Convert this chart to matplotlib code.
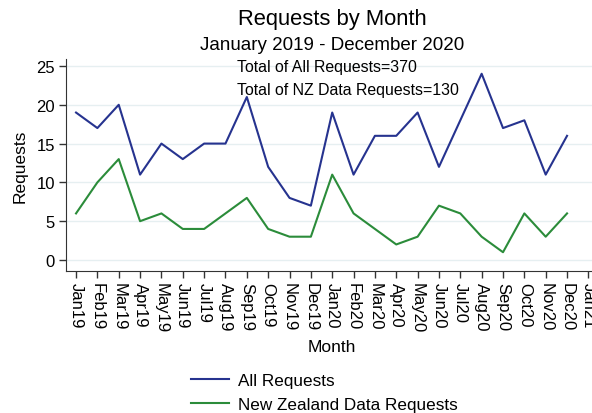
import matplotlib
matplotlib.use("Agg")
import matplotlib.pyplot as plt

months = ["Jan19","Feb19","Mar19","Apr19","May19","Jun19","Jul19","Aug19","Sep19","Oct19","Nov19","Dec19",
          "Jan20","Feb20","Mar20","Apr20","May20","Jun20","Jul20","Aug20","Sep20","Oct20","Nov20","Dec20","Jan21"]
all_requests = [19,17,20,11,15,13,15,15,21,12,8,7,19,11,16,16,19,12,18,24,17,18,11,16]
nz_requests = [6,10,13,5,6,4,4,6,8,4,3,3,11,6,4,2,3,7,6,3,1,6,3,6]
y_ticks = [0,5,10,15,20,25]

plt.rcParams['font.family'] = ['Liberation Sans', 'DejaVu Sans']

W, H = 592, 414
fig = plt.figure(figsize=(W/100, H/100), dpi=100)
left, right, top, bottom = 66, 598, 60, 272
ax = fig.add_axes([left/W, 1-bottom/H, (right-left)/W, (bottom-top)/H])

x = list(range(len(all_requests)))
navy = '#26338f'
green = '#2b8c3a'
l1, = ax.plot(x, all_requests, color=navy, lw=1.5, label='All Requests')
l2, = ax.plot(x, nz_requests, color=green, lw=1.5, label='New Zealand Data Requests')

ax.set_xlim(-0.47, 24.45)
ax.set_ylim(-1.42, 25.9)
ax.set_yticks(y_ticks)
ax.set_yticklabels([str(v) for v in y_ticks], fontsize=12)
ax.set_xticks(range(len(months)))
ax.set_xticklabels(months, rotation=270, fontsize=12, va='top', ha='center')
ax.tick_params(axis='both', direction='out', length=5, width=1, color='#333333', pad=3)
for yv in y_ticks:
    ax.axhline(yv, color='#e6eff1', lw=1, zorder=0)
ax.spines['top'].set_visible(False)
ax.spines['right'].set_visible(False)
ax.spines['left'].set_color('#333333')
ax.spines['bottom'].set_color('#333333')

ax.set_ylabel('Requests', fontsize=12.5, labelpad=6)
ax.set_xlabel('Month', fontsize=12.5, labelpad=5)

cx = (left + right) / 2 / W
fig.text(cx, 1-20/H, 'Requests by Month', ha='center', va='center', fontsize=15.8)
fig.text(cx, 1-46/H, 'January 2019 - December 2020', ha='center', va='center', fontsize=13.5)

ax.text(7.54, 24.9, 'Total of All Requests=370', ha='left', va='center', fontsize=11.4)
ax.text(7.54, 22.0, 'Total of NZ Data Requests=130', ha='left', va='center', fontsize=11.4)

fig.legend(handles=[l1, l2], loc='upper left', bbox_to_anchor=(191/W, 1-374/H),
           frameon=False, fontsize=12.3, handlelength=2.2, handletextpad=0.55,
           labelspacing=0.55, borderpad=0, borderaxespad=0)

fig.savefig('out.png', dpi=100)
